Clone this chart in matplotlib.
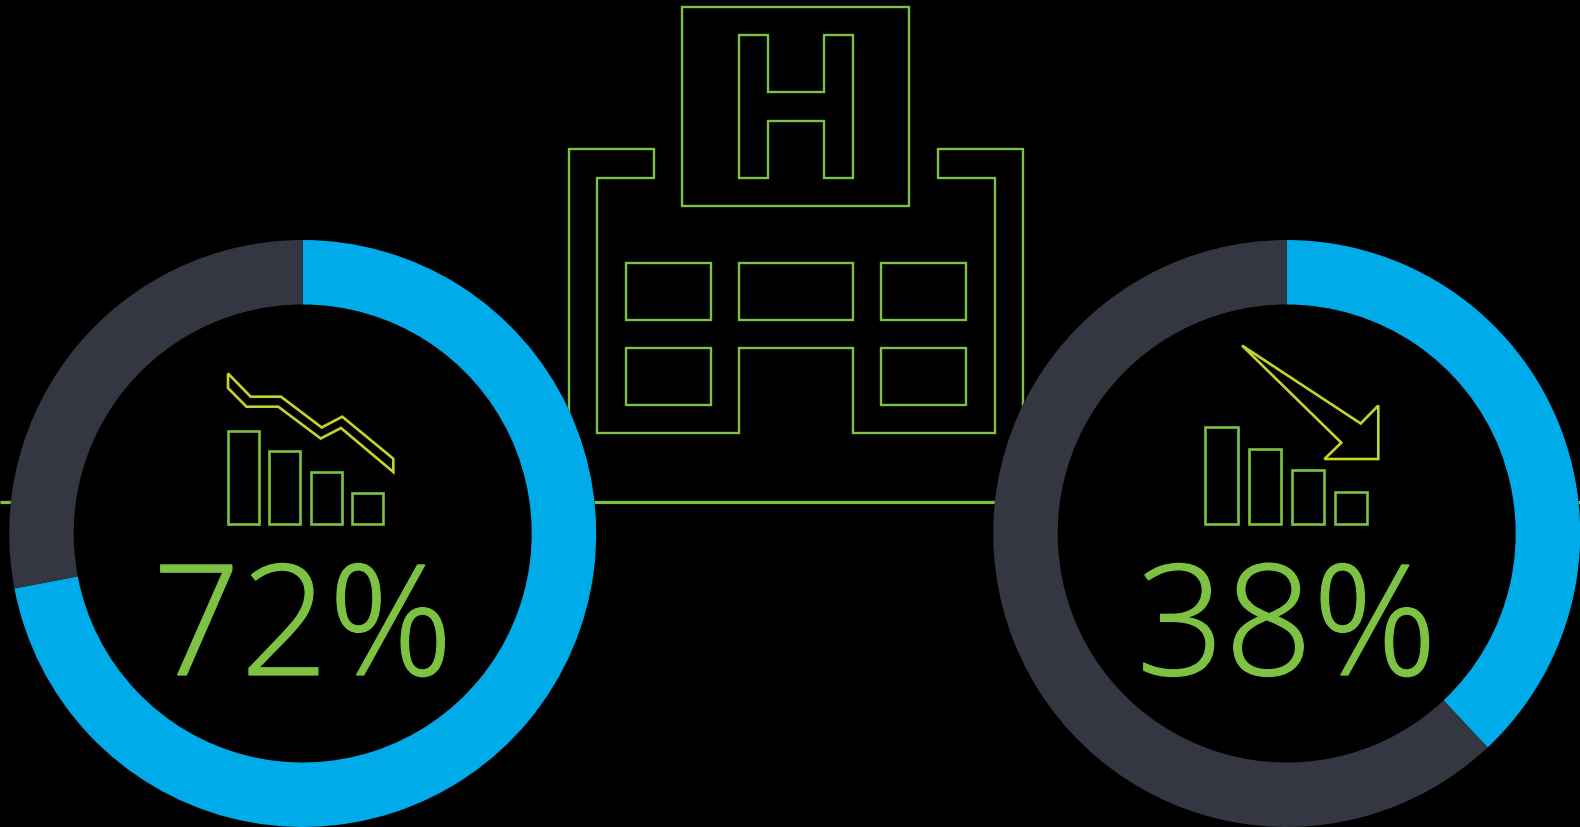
import matplotlib
matplotlib.use('Agg')
import matplotlib.pyplot as plt
import matplotlib.patheffects as pe
from matplotlib.patches import Circle, Polygon, Rectangle

W, H = 1580, 827

GREEN = '#7DC242'
LIME = '#C6D32C'
BLUE = '#00ABE9'
SLATE = '#343641'

# donut values, percent
left_values = [72, 28]
right_values = [38, 62]
left_label = '72%'
right_label = '38%'

# small bar icons: left edges, tops, bottom, bar width (px)
left_bar_x = [228, 269.4, 311, 352.4]
left_bar_top = [430.5, 451.2, 472.2, 493]
left_bar_bottom = 523.6
left_bar_w = 31
right_bar_x = [1205.2, 1248.5, 1291.5, 1335]
right_bar_top = [426.5, 448.5, 470, 491.5]
right_bar_bottom = 524
right_bar_w = 32.3

# outlines of the icons (px)
zigzag = [(228, 373.5), (250.7, 396.7), (281, 396.7), (321.7, 427.5), (342.3, 416.7),
          (393.3, 458.7), (393.3, 472), (341, 428), (320.7, 438.5), (278.3, 406.7),
          (246.5, 406.7), (228, 388)]
arrow = [(1242, 345.5), (1360.7, 423.5), (1378.3, 405.5), (1378.3, 459),
         (1324.5, 459), (1341.3, 442.7)]
building = [(569, 500), (569, 149.3), (654.3, 149.3), (654.3, 177.5), (597.3, 177.5),
            (597.3, 433.3), (739, 433.3), (739, 348), (853, 348), (853, 433.3),
            (994.7, 433.3), (994.7, 177.5), (937.7, 177.5), (937.7, 149.3),
            (1023, 149.3), (1023, 500)]
letter_h = [(739, 35), (767.7, 35), (767.7, 92), (824.3, 92), (824.3, 35), (853, 35),
            (853, 177.5), (824.3, 177.5), (824.3, 120.7), (767.7, 120.7),
            (767.7, 177.5), (739, 177.5)]
sign_box = (682.3, 6.5, 227, 199.5)
windows = [(625.7, 263, 85.6, 56.7), (739, 263, 114, 56.7), (880.7, 263, 85.6, 56.7),
           (625.7, 348, 85.6, 57), (880.7, 348, 85.6, 57)]


def donut(cx, values):
    cy, r_out, r_in = 533.5, 293.5, 229
    ax = fig.add_axes([(cx - r_out) / W, 1 - (cy + r_out) / H, 2 * r_out / W, 2 * r_out / H])
    ax.add_patch(Circle((0, 0), 1, fc='black', ec='none'))
    ax.pie(values, colors=[BLUE, SLATE], startangle=90, counterclock=False, radius=1,
           wedgeprops={'width': 1 - r_in / r_out, 'linewidth': 0})
    ax.set_xlim(-1, 1)
    ax.set_ylim(-1, 1)
    ax.patch.set_alpha(0)
    ax.axis('off')


def bars(ax, xs, tops, bottom, width):
    ax.bar(xs, [bottom - t for t in tops], width=width, bottom=tops, align='edge',
           fill=False, ec=GREEN, lw=1.9)


def percent(ax, cx, label):
    t = ax.text(cx, 675, label, color=GREEN, fontsize=111, ha='center', va='baseline',
                family='Open Sans', fontweight='light')
    t.set_path_effects([pe.withStroke(linewidth=0.9, foreground=GREEN, joinstyle='miter')])


fig = plt.figure(figsize=(W / 100, H / 100), dpi=100, facecolor='black')
main = fig.add_axes([0, 0, 1, 1])
main.set_xlim(0, W)
main.set_ylim(H, 0)
main.axis('off')

# ground line and hospital
main.plot([0, W], [502.3, 502.3], color=GREEN, lw=2.3, solid_capstyle='butt')
main.plot(*zip(*building), color=GREEN, lw=1.7, solid_joinstyle='miter')
main.add_patch(Polygon(letter_h, closed=True, fill=False, ec=GREEN, lw=1.7, joinstyle='miter'))
main.add_patch(Rectangle(sign_box[:2], sign_box[2], sign_box[3], fill=False, ec=GREEN, lw=1.7))
for x, y, w, h in windows:
    main.add_patch(Rectangle((x, y), w, h, fill=False, ec=GREEN, lw=1.7))

donut(302.7, left_values)
donut(1286.7, right_values)

# the icons and labels sit above the donut centres
top = fig.add_axes([0, 0, 1, 1])
top.patch.set_alpha(0)
bars(top, left_bar_x, left_bar_top, left_bar_bottom, left_bar_w)
bars(top, right_bar_x, right_bar_top, right_bar_bottom, right_bar_w)
top.add_patch(Polygon(zigzag, closed=True, fill=False, ec=LIME, lw=1.9, joinstyle='miter'))
top.add_patch(Polygon(arrow, closed=True, fill=False, ec=LIME, lw=1.9, joinstyle='miter'))
top.set_xlim(0, W)
top.set_ylim(H, 0)
top.axis('off')
percent(top, 302.7, left_label)
percent(top, 1286.7, right_label)

fig.savefig('out.png', dpi=100, facecolor='black')
